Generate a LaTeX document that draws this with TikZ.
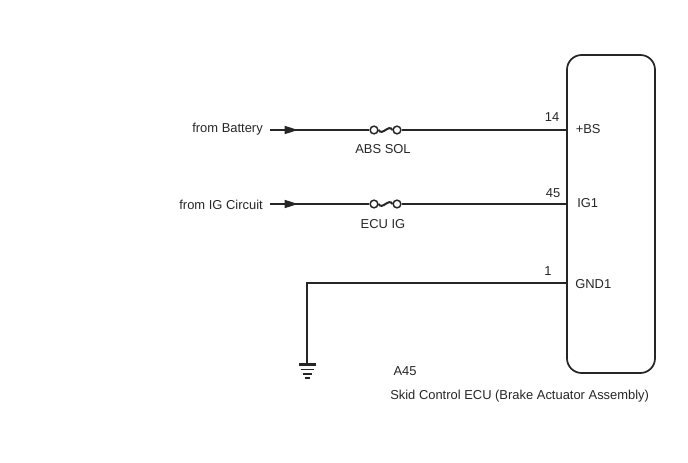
\documentclass[tikz,border=0pt]{standalone}
\usepackage{fontspec}
\setmainfont{Liberation Sans}
\usetikzlibrary{arrows.meta}
\tikzset{
  wire/.style={line width=1.2pt,black!85},
  fusewave/.style={line width=1.5pt,black!85},
  lbl/.style={inner sep=0pt,text=black!85,font=\fontsize{9.7}{11}\selectfont},
  fusepin/.style={circle,draw,line width=1.1pt,black!85,fill=white,inner sep=0pt,minimum size=5.8pt},
  feed/.style={wire,-{Triangle[length=10pt,width=6pt]}},
  earthbar/.style={black!85}
}
\begin{document}
\begin{tikzpicture}[x=0.75pt,y=-0.75pt]
  \useasboundingbox (0,0) rectangle (688,463);
  % ECU box
  \node (ecu) at (611,214) [draw,line width=1.3pt,black!85,rounded corners=11pt,
    minimum width=66pt,minimum height=238.5pt,inner sep=0pt] {};
  % battery line
  \coordinate (batstart) at (270,130);
  \coordinate (battip) at (298,130);
  \node[fusepin] (batfuseA) at (374,130) {};
  \node[fusepin] (batfuseB) at (397,130) {};
  \coordinate (batpin) at (ecu.west |- batstart);
  \draw[feed] (batstart) -- (battip);
  \draw[wire] (batstart) -- (batfuseA);
  \draw[wire] (batfuseB) -- (batpin);
  \draw[fusewave] (batfuseA.east) .. controls (382,136.5) and (389,123.5) .. (batfuseB.west);
  % IG line
  \coordinate (igstart) at (270,204);
  \coordinate (igtip) at (298,204);
  \node[fusepin] (igfuseA) at (374,204) {};
  \node[fusepin] (igfuseB) at (397,204) {};
  \coordinate (igpin) at (ecu.west |- igstart);
  \draw[feed] (igstart) -- (igtip);
  \draw[wire] (igstart) -- (igfuseA);
  \draw[wire] (igfuseB) -- (igpin);
  \draw[fusewave] (igfuseA.east) .. controls (382,210.5) and (389,197.5) .. (igfuseB.west);
  % ground line
  \coordinate (gndpin) at (567,283);
  \coordinate (earth) at (307,364);
  \draw[wire] (gndpin) -- (earth |- gndpin) -- (earth);
  \draw[earthbar,line width=2pt] (298.5,364.3) -- (315.5,364.3);
  \draw[earthbar,line width=1.2pt] (300.5,369.5) -- (313.5,369.5);
  \draw[earthbar,line width=1.2pt] (302.5,373.8) -- (311.5,373.8);
  \draw[earthbar,line width=1.2pt] (304.5,378) -- (309.5,378);
  % labels
  \node[lbl,anchor=east] (batlbl) at (263,128.7) {from Battery};
  \node[lbl,anchor=east] (iglbl) at (263,204.7) {from IG Circuit};
  \node[lbl] (batfuselbl) at (383,148.7) {ABS SOL};
  \node[lbl] (igfuselbl) at (383,223.7) {ECU IG};
  \node[lbl] (batnum) at (552,116.7) {14};
  \node[lbl] (ignum) at (553,192.7) {45};
  \node[lbl] (gndnum) at (548,270.7) {1};
  \node[lbl,anchor=west] (batname) at (575.5,128.7) {+BS};
  \node[lbl,anchor=west] (igname) at (577,202.7) {IG1};
  \node[lbl,anchor=west] (gndname) at (575,283.7) {GND1};
  \node[lbl] (connlbl) at (405,370.7) {A45};
  \node[lbl,anchor=west] (ecuname) at (390,395.7) {Skid Control ECU (Brake Actuator Assembly)};
\end{tikzpicture}
\end{document}
